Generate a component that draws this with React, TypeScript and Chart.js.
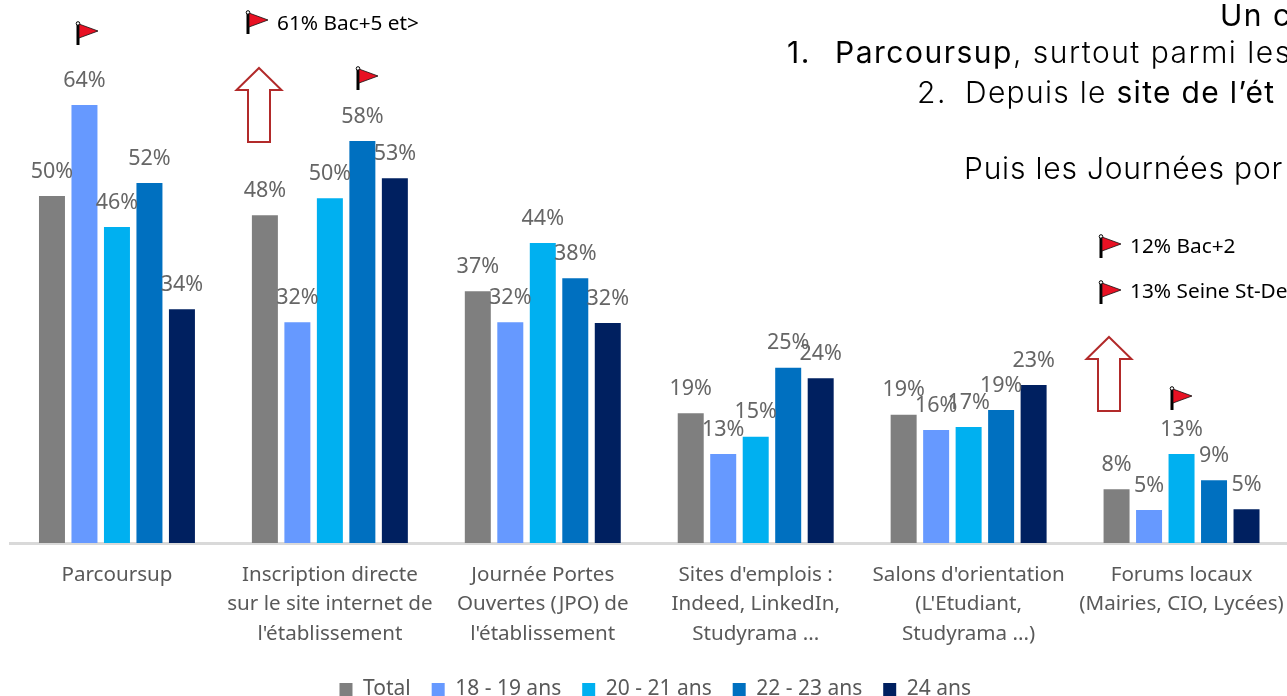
import React, { useEffect, useRef } from "react";
import { Chart, registerables } from "chart.js";

Chart.register(...registerables);

const categories = [
  "Parcoursup",
  ["Inscription directe", "sur le site internet de", "l'établissement"],
  ["Journée Portes", "Ouvertes (JPO) de", "l'établissement"],
  ["Sites d'emplois :", "Indeed, LinkedIn,", "Studyrama ..."],
  ["Salons d'orientation", "(L'Etudiant,", "Studyrama ...)"],
  ["Forums locaux", "(Mairies, CIO, Lycées)"],
];
const seriesNames = ["Total", "18 - 19 ans", "20 - 21 ans", "22 - 23 ans", "24 ans"];
const total = [50.3, 47.5, 36.5, 18.8, 18.6, 7.8];
const age1819 = [63.5, 32, 32, 12.9, 16.4, 4.8];
const age2021 = [45.8, 50, 43.5, 15.4, 16.8, 12.9];
const age2223 = [52.2, 58.3, 38.4, 25.4, 19.3, 9.1];
const age24 = [33.9, 52.9, 31.9, 23.9, 22.9, 4.9];
const seriesColors = ["#7f7f7f", "#6699ff", "#00b0f0", "#0070c0", "#002060"];
const allSeries = [total, age1819, age2021, age2223, age24];

const FONT = '"Noto Sans", "Open Sans", sans-serif';
const TITLE = 'Inter, "Noto Sans", sans-serif';

const flag = (c: CanvasRenderingContext2D, x: number, y: number) => {
  c.fillStyle = "#000";
  c.fillRect(x - 1.5, y + 2, 3, 21);
  c.beginPath();
  c.arc(x, y + 1.5, 1.8, 0, Math.PI * 2);
  c.fillStyle = "#fff";
  c.fill();
  c.strokeStyle = "#000";
  c.lineWidth = 1;
  c.stroke();
  c.beginPath();
  c.moveTo(x + 1, y + 2);
  c.lineTo(x + 20, y + 9);
  c.lineTo(x + 1, y + 16);
  c.closePath();
  c.fillStyle = "#e81123";
  c.fill();
  c.strokeStyle = "#111";
  c.lineWidth = 0.8;
  c.stroke();
};

const arrow = (c: CanvasRenderingContext2D, cx: number, top: number) => {
  c.beginPath();
  c.moveTo(cx, top);
  c.lineTo(cx + 22.5, top + 22);
  c.lineTo(cx + 11, top + 22);
  c.lineTo(cx + 11, top + 74);
  c.lineTo(cx - 11, top + 74);
  c.lineTo(cx - 11, top + 22);
  c.lineTo(cx - 22.5, top + 22);
  c.closePath();
  c.fillStyle = "#fff";
  c.fill();
  c.strokeStyle = "#b22a2a";
  c.lineWidth = 2;
  c.stroke();
};

const barLabels = {
  id: "barLabels",
  afterDatasetsDraw(chart: any) {
    const c = chart.ctx;
    c.save();
    c.font = `21.5px ${FONT}`;
    c.fillStyle = "#666666";
    c.textAlign = "center";
    c.textBaseline = "middle";
    chart.data.datasets.forEach((ds: any, i: number) => {
      chart.getDatasetMeta(i).data.forEach((el: any, j: number) => {
        c.fillText(`${Math.round(ds.data[j])}%`, el.x, el.y - 24.5);
      });
    });
    c.restore();
  },
};

const legendShift = {
  id: "legendShift",
  afterLayout(chart: any) {
    chart.legend.left += 6;
    chart.legend.right += 6;
  },
};

const annotations = {
  id: "annotations",
  afterDraw(chart: any) {
    const c = chart.ctx;
    c.save();
    [[78, 22], [248, 11], [358, 67], [1101, 235], [1101, 281], [1172, 387]].forEach(([x, y]) => flag(c, x, y));
    arrow(c, 259, 68);
    arrow(c, 1109, 337);

    c.font = `20.8px ${FONT}`;
    c.fillStyle = "#000";
    c.textBaseline = "middle";
    c.fillText("61% Bac+5 et>", 277, 24);
    c.fillText("12% Bac+2", 1130, 247);
    c.fillText("13% Seine St-De", 1130, 292);

    c.textBaseline = "alphabetic";
    const light = `300 30px ${TITLE}`;
    const regular = `400 30px ${TITLE}`;
    const run = (parts: [string, string][], x: number, y: number, spacing: number) => {
      let cx = x;
      c.letterSpacing = `${spacing}px`;
      parts.forEach(([t, f]) => {
        c.font = f;
        c.fillText(t, cx, y);
        cx += c.measureText(t).width;
      });
    };
    run([["Un c", regular]], 1220, 26, 1.5);
    run([["1.", regular]], 787, 63, 1.5);
    run([["Parcoursup", regular], [", surtout parmi les", light]], 835, 63, 1.5);
    run([["2.", light]], 917, 103, 1.5);
    run([["Depuis le ", light], ["site de l’ét", regular]], 965, 103, 1.3);
    run([["Puis les Journées por", light]], 964, 179, 0.8);
    c.restore();
  },
};

export default function App() {
  const ref = useRef<HTMLCanvasElement>(null);
  useEffect(() => {
    const chart = new Chart(ref.current!, {
      type: "bar",
      data: {
        labels: categories as any,
        datasets: seriesNames.map((name, i) => ({
          label: name,
          data: allSeries[i],
          backgroundColor: seriesColors[i],
          categoryPercentage: 0.763,
          barPercentage: 0.8,
        })),
      },
      options: {
        responsive: false,
        animation: false,
        layout: { padding: { left: 10.5, right: 22, top: 5, bottom: 0 } },
        plugins: {
          tooltip: { enabled: false },
          legend: {
            position: "bottom",
            labels: {
              boxWidth: 13,
              boxHeight: 13,
              padding: 21,
              color: "#595959",
              font: { family: FONT, size: 21 },
            },
          },
        },
        scales: {
          y: { display: false, min: 0, max: 78 },
          x: {
            afterFit: (s: any) => {
              s.height = 115;
            },
            grid: { display: false },
            border: { display: true, color: "#d9d9d9", width: 3 },
            ticks: {
              autoSkip: false,
              maxRotation: 0,
              padding: 9,
              color: "#595959",
              font: { family: FONT, size: 20.6, lineHeight: 1.44 },
            },
          },
        },
      } as any,
      plugins: [barLabels, legendShift, annotations],
    });
    return () => chart.destroy();
  }, []);
  return (
    <div style={{ position: "fixed", left: 0, top: 0, width: 1287, height: 696, overflow: "hidden", background: "#fff" }}>
      <canvas ref={ref} width={1310} height={710} style={{ display: "block" }} />
    </div>
  );
}
